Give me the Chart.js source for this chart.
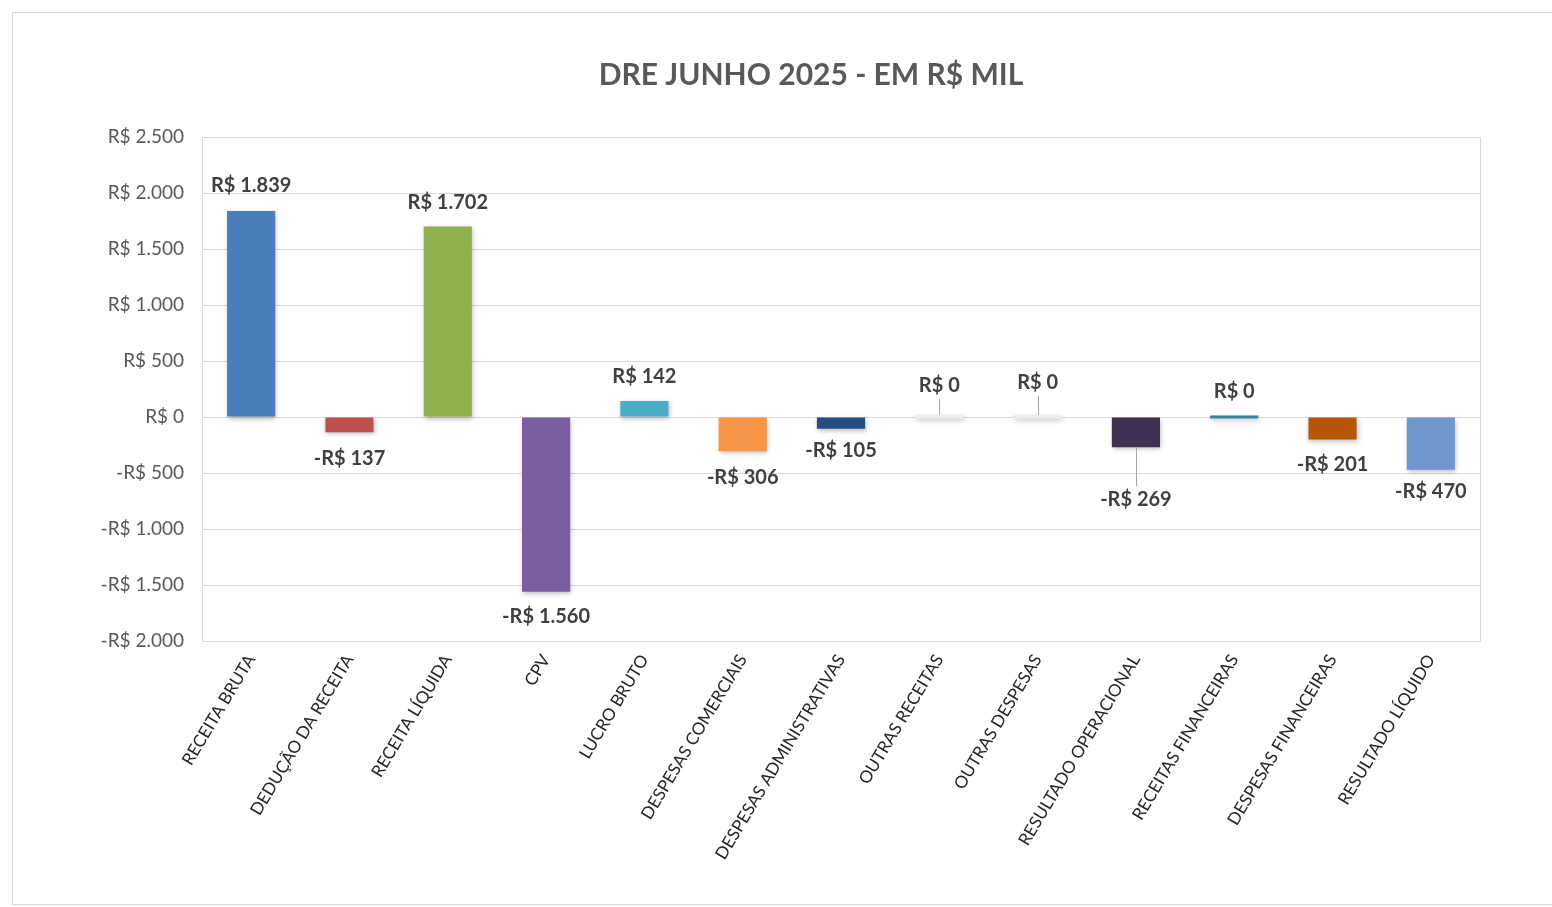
<!DOCTYPE html>
<html>
<head>
<meta charset="utf-8">
<script src="https://cdn.jsdelivr.net/npm/chart.js@4.4.1/dist/chart.umd.min.js"></script>
<style>
  html, body { margin: 0; padding: 0; background: #ffffff; }
  #wrap { position: relative; width: 1552px; height: 907px; }
  canvas { display: block; }
</style>
</head>
<body>
<div id="wrap"><canvas id="c" width="1552" height="907"></canvas></div>
<script>
const categories = [
  'RECEITA BRUTA', 'DEDUÇÃO DA RECEITA', 'RECEITA LÍQUIDA', 'CPV', 'LUCRO BRUTO',
  'DESPESAS COMERCIAIS', 'DESPESAS ADMINISTRATIVAS', 'OUTRAS RECEITAS', 'OUTRAS DESPESAS',
  'RESULTADO OPERACIONAL', 'RECEITAS FINANCEIRAS', 'DESPESAS FINANCEIRAS', 'RESULTADO LÍQUIDO'
];
const values = [1839, -137, 1702, -1560, 142, -306, -105, 0, 0, -269, 0, -201, -470];
const barColors = [
  '#4A7EBB', '#C0504D', '#8FB24F', '#7B5EA0', '#4BACC6',
  '#F79646', '#254E80', '#ECECEC', '#ECECEC',
  '#403152', '#31859C', '#B65708', '#6E97CF'
];
const yTicks = [2500, 2000, 1500, 1000, 500, 0, -500, -1000, -1500, -2000];
const titleText = 'DRE JUNHO 2025 - EM R$ MIL';

// label styling (pixel gap from bar end, optional leader line)
const labelGap = [25, 26, 24, 25, 25, 26, 22, 31, 34, 52, 25, 25, 22];
const leader = [false, false, false, false, false, false, false, true, true, true, false, false, false];

function fmt(v) {
  const a = Math.abs(Math.round(v));
  const s = a.toString().replace(/\B(?=(\d{3})+(?!\d))/g, '.');
  return (v < 0 ? '-' : '') + 'R$ ' + s;
}

const FONT = 'Lato, "Open Sans", "Noto Sans", sans-serif';

const framePlugin = {
  id: 'frame',
  beforeDraw(chart) {
    const ctx = chart.ctx;
    ctx.save();
    ctx.fillStyle = '#ffffff';
    ctx.fillRect(0, 0, chart.width, chart.height);
    ctx.strokeStyle = '#D9D9D9';
    ctx.lineWidth = 1;
    ctx.strokeRect(12.5, 12.5, 1600, 892);
    ctx.restore();
  },
  afterDraw(chart) {
    const ctx = chart.ctx;
    ctx.save();
    ctx.fillStyle = '#595959';
    ctx.font = 'bold 30px ' + FONT;
    ctx.textAlign = 'center';
    ctx.textBaseline = 'middle';
    ctx.fillText(titleText, 811, 75);
    ctx.restore();
  }
};

const areaBorder = {
  id: 'areaBorder',
  beforeDatasetsDraw(chart) {
    const a = chart.chartArea;
    const ctx = chart.ctx;
    ctx.save();
    ctx.strokeStyle = '#D9D9D9';
    ctx.lineWidth = 1;
    ctx.strokeRect(Math.round(a.left) + 0.5, Math.round(a.top) + 0.5, Math.round(a.right - a.left), Math.round(a.bottom - a.top));
    ctx.restore();
  }
};

const shadowPlugin = {
  id: 'shadow',
  beforeDatasetDraw(chart) {
    const ctx = chart.ctx;
    ctx.save();
    ctx.shadowColor = 'rgba(0,0,0,0.28)';
    ctx.shadowBlur = 5;
    ctx.shadowOffsetX = 1;
    ctx.shadowOffsetY = 2;
  },
  afterDatasetDraw(chart) {
    chart.ctx.restore();
  }
};

const labelPlugin = {
  id: 'valueLabels',
  afterDatasetsDraw(chart) {
    const ctx = chart.ctx;
    const meta = chart.getDatasetMeta(0);
    const yScale = chart.scales.y;
    const zero = yScale.getPixelForValue(0);
    ctx.save();
    ctx.font = 'bold 20px ' + FONT;
    ctx.fillStyle = '#404040';
    ctx.textAlign = 'center';
    ctx.textBaseline = 'middle';
    meta.data.forEach((bar, i) => {
      const v = values[i];
      const x = bar.x;
      let ty;
      if (v >= 0) {
        const top = Math.min(bar.y, bar.base);
        ty = (v === 0) ? zero - labelGap[i] : top - labelGap[i];
      } else {
        const bottom = Math.max(bar.y, bar.base);
        ty = bottom + labelGap[i];
      }
      if (leader[i]) {
        ctx.save();
        ctx.strokeStyle = '#A6A6A6';
        ctx.lineWidth = 1;
        ctx.beginPath();
        if (v < 0) {
          const bottom = Math.max(bar.y, bar.base);
          ctx.moveTo(Math.round(x) + 0.5, bottom);
          ctx.lineTo(Math.round(x) + 0.5, ty - 13);
        } else {
          ctx.moveTo(Math.round(x) + 0.5, ty + 13);
          ctx.lineTo(Math.round(x) + 0.5, zero - 2);
        }
        ctx.stroke();
        ctx.restore();
      }
      ctx.fillText(fmt(v), x, ty);
    });
    ctx.restore();
  }
};

new Chart(document.getElementById('c'), {
  type: 'bar',
  data: {
    labels: categories,
    datasets: [{
      data: values,
      backgroundColor: barColors,
      borderWidth: 0,
      barPercentage: 0.49,
      categoryPercentage: 1.0,
      minBarLength: 3
    }]
  },
  options: {
    responsive: false,
    animation: false,
    layout: { padding: { left: 0, top: 137, right: 72, bottom: 0 } },
    plugins: {
      legend: { display: false },
      title: { display: false },
      tooltip: { enabled: false }
    },
    scales: {
      x: {
        offset: true,
        grid: { display: false, drawTicks: false },
        border: { display: false },
        ticks: {
          color: '#262626',
          font: { family: FONT, size: 17 },
          maxRotation: 59,
          minRotation: 59,
          autoSkip: false,
          padding: 10
        },
        afterFit(scale) { scale.height = 266; }
      },
      y: {
        min: -2000,
        max: 2500,
        afterBuildTicks(scale) { scale.ticks = yTicks.map(v => ({ value: v })); },
        grid: { color: '#D9D9D9', lineWidth: 1, drawTicks: false },
        border: { display: false },
        ticks: {
          color: '#595959',
          font: { family: FONT, size: 19 },
          padding: 18,
          callback: (v) => fmt(v)
        },
        afterFit(scale) { scale.width = 202; }
      }
    }
  },
  plugins: [framePlugin, areaBorder, shadowPlugin, labelPlugin]
});
</script>
</body>
</html>
